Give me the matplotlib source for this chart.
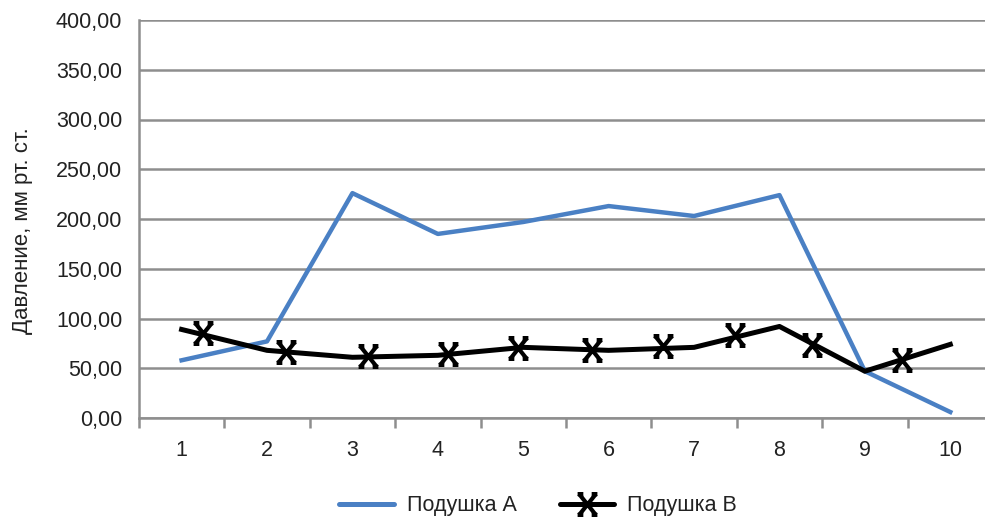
import matplotlib
matplotlib.use("Agg")
import matplotlib.pyplot as plt
from matplotlib.path import Path
from matplotlib.ticker import FixedLocator, FuncFormatter

plt.rcParams['font.family'] = ['Liberation Sans', 'DejaVu Sans']

categories = [1, 2, 3, 4, 5, 6, 7, 8, 9, 10]
pillow_a = [58, 77, 226, 185, 197, 213, 203, 224, 47, 6]
pillow_b = [89, 68, 61, 63, 71, 68, 71, 92, 47, 74]
# marker positions of series B (drawn along its line)
marker_b_x = [1.25, 2.22, 3.18, 4.12, 4.94, 5.81, 6.64, 7.48, 8.38, 9.43]
marker_b_y = [85, 66, 62, 64, 70, 68, 72, 83, 73, 58]
y_ticks = [0, 50, 100, 150, 200, 250, 300, 350, 400]
label_a = "Подушка А"
label_b = "Подушка В"
y_label = "Давление, мм рт. ст."

blue = "#4a80c4"
grid_c = "#8e8e8e"
text_c = "#222222"

M, L = Path.MOVETO, Path.LINETO
star = Path([(-0.8, -1), (0.8, 1), (-0.8, 1), (0.8, -1),
             (-0.95, 1), (-0.4, 1), (0.4, 1), (0.95, 1),
             (-0.95, -1), (-0.4, -1), (0.4, -1), (0.95, -1)],
            [M, L, M, L, M, L, M, L, M, L, M, L])

fig = plt.figure(figsize=(9.85, 5.18), dpi=100)
ax = fig.add_axes([138.9 / 985, 1 - 418 / 518, (993 - 138.9) / 985, (418 - 20) / 518])

ax.plot(categories, pillow_a, color=blue, lw=3.2, zorder=3)
ax.plot(categories, pillow_b, color='black', lw=3.6, zorder=4)
ax.plot(marker_b_x, marker_b_y, ls='none', marker=star, ms=15, mew=3.0,
        mec='black', mfc='none', zorder=5)

ax.set_xlim(0.5, 10.5)
ax.set_ylim(0, 400)

ax.yaxis.set_major_locator(FixedLocator(y_ticks))
ax.yaxis.set_major_formatter(FuncFormatter(lambda v, p: f"{v:.2f}".replace('.', ',')))
ax.xaxis.set_major_locator(FixedLocator(categories))
ax.xaxis.set_minor_locator(FixedLocator([c - 0.5 for c in categories] + [10.5]))

ax.grid(axis='y', color=grid_c, lw=1.8, zorder=1)
ax.set_axisbelow(True)
for s in ['top', 'right']:
    ax.spines[s].set_visible(False)
for s in ['left', 'bottom']:
    ax.spines[s].set_color(grid_c)
    ax.spines[s].set_linewidth(1.8)

ax.tick_params(axis='y', length=0, pad=12, labelsize=15.5, labelcolor=text_c)
ax.tick_params(axis='x', which='major', length=0, pad=16, labelsize=15.5, labelcolor=text_c)
ax.tick_params(axis='x', which='minor', length=7, width=1.8, color=grid_c, direction='out')

fig.text(23 / 985, 1 - 231 / 518, y_label, rotation=90, ha='center', va='center',
         fontsize=16, color=text_c)

h_a, = ax.plot([], [], color=blue, lw=3.6, solid_capstyle='round')
h_b, = ax.plot([], [], color='black', lw=3.6, marker=star, ms=15, mew=3.0,
               mfc='none', solid_capstyle='round')
fig.legend([h_a, h_b], [label_a, label_b], loc='center', bbox_to_anchor=(538 / 985, 1 - 506 / 518),
           ncol=2, frameon=False, fontsize=15.5, handlelength=2.55, handletextpad=0.6,
           columnspacing=2.0, labelcolor=text_c)

fig.savefig("out.png", dpi=100)
